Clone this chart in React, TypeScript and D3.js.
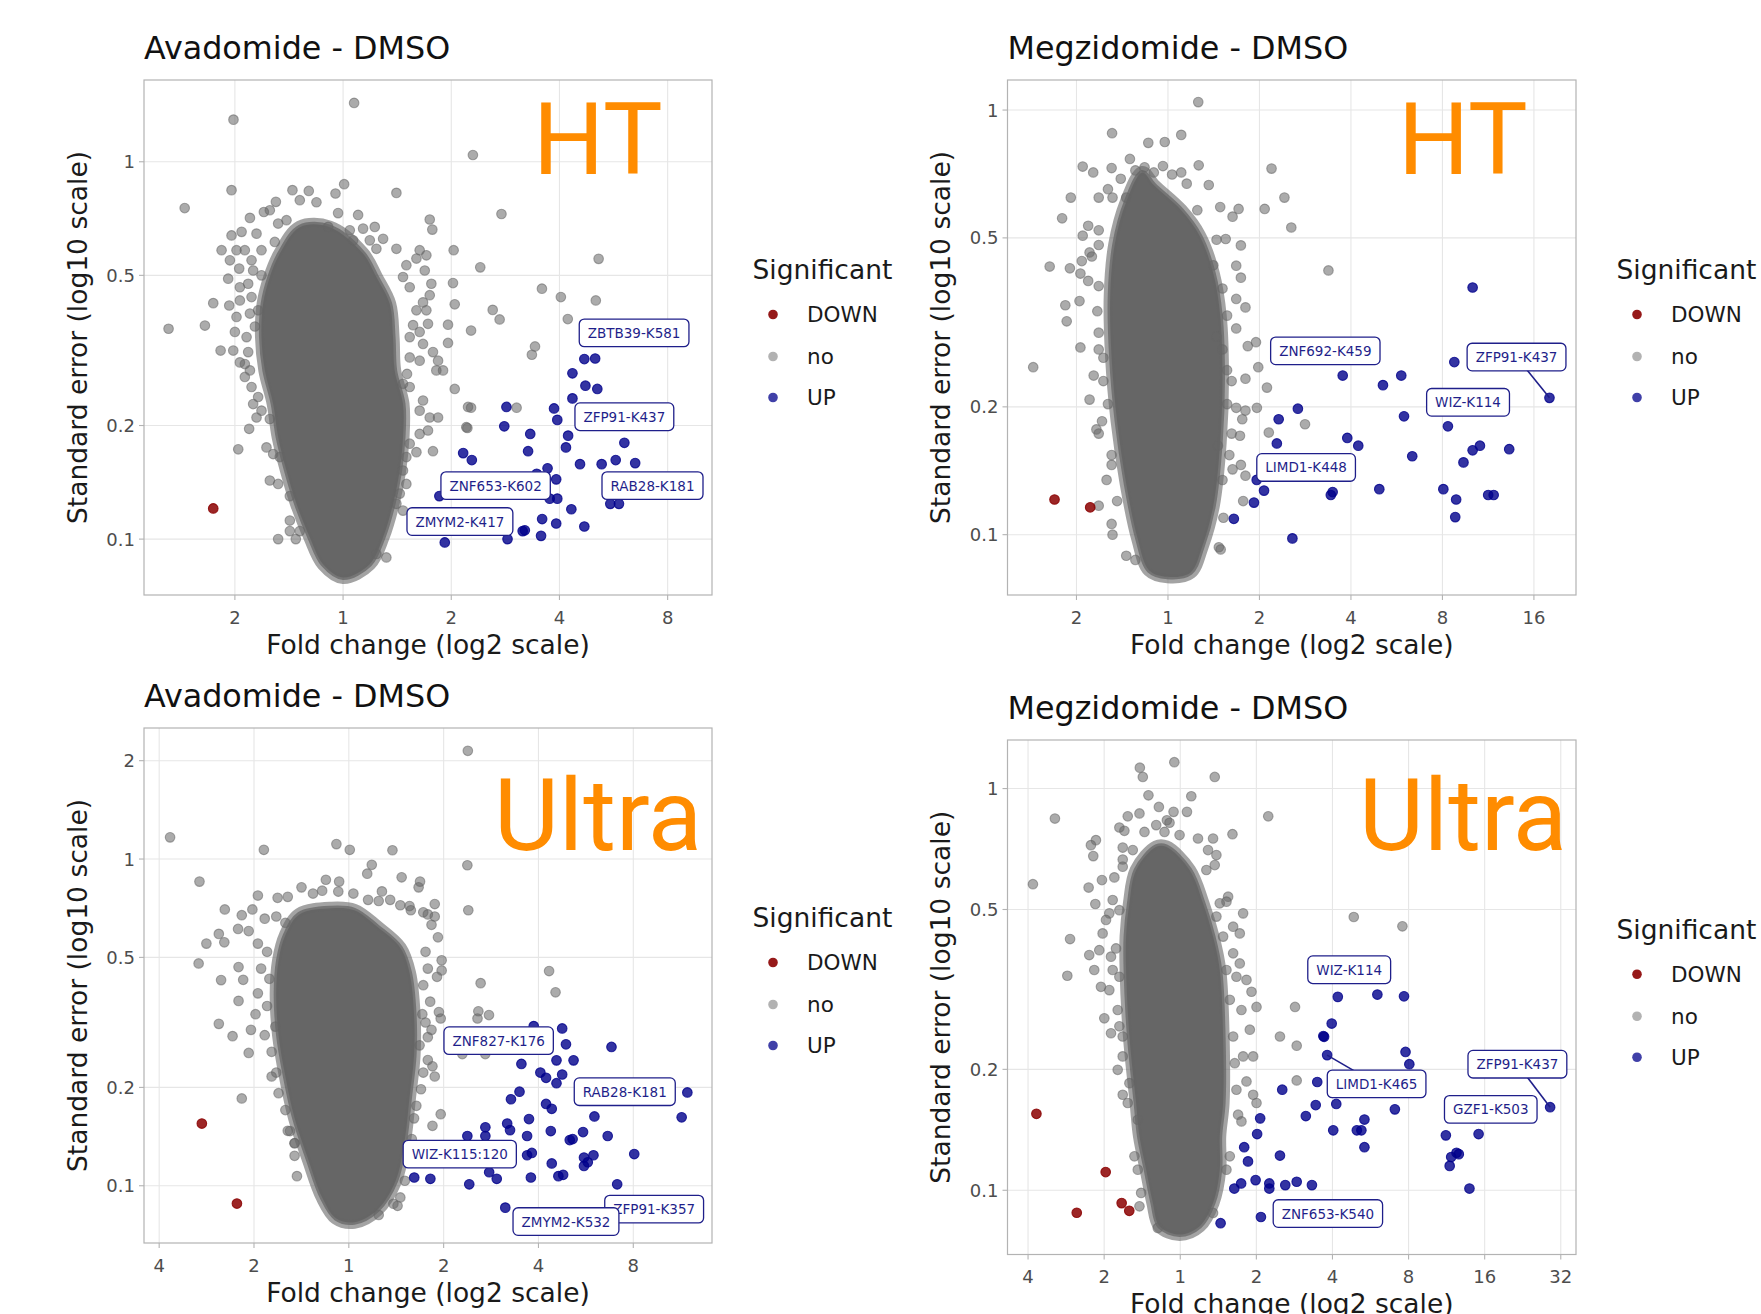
import React, { useEffect, useRef } from 'react';
import * as d3 from 'd3';

type P = [number, number];
type Lab = { text: string; x: number; y: number; lead?: P };

// ---------------- Panel 1: Avadomide - DMSO (HT) ----------------
const p1XTicks = [-1, 0, 1, 2, 3];
const p1XTickLabels = ['2', '1', '2', '4', '8'];
const p1YTicks = [0.1, 0.2, 0.5, 1];
const p1YTickLabels = ['0.1', '0.2', '0.5', '1'];
const p1Up: P[] = [
  [2.23, 0.300], [2.33, 0.301], [2.12, 0.275], [2.24, 0.255], [2.35, 0.250], [2.12, 0.236],
  [1.51, 0.224], [1.95, 0.222], [1.98, 0.207], [1.49, 0.199], [1.73, 0.190], [2.08, 0.188],
  [2.06, 0.175], [2.60, 0.180], [1.71, 0.171], [1.11, 0.169], [1.19, 0.162], [2.19, 0.158],
  [2.39, 0.158], [2.52, 0.162], [2.70, 0.159], [1.89, 0.154], [1.79, 0.149], [1.97, 0.144],
  [0.89, 0.130], [1.91, 0.128], [1.98, 0.128], [2.47, 0.124], [2.55, 0.124], [2.11, 0.120],
  [1.84, 0.113], [1.97, 0.110], [2.23, 0.108], [1.66, 0.105], [1.68, 0.1055], [1.52, 0.100],
  [1.83, 0.102], [0.94, 0.098],
];
const p1Down: P[] = [[-1.20, 0.1206]];
const p1Grey: P[] = [
  [0.102, 1.432], [-1.013, 1.293], [1.200, 1.042], [-1.464, 0.754], [1.464, 0.727], [2.362, 0.553],
  [1.268, 0.525], [1.838, 0.461], [2.013, 0.438], [2.336, 0.429], [1.383, 0.405], [1.447, 0.382],
  [2.077, 0.383], [1.183, 0.357], [1.774, 0.324], [1.745, 0.308], [1.183, 0.223], [1.604, 0.223],
  [-1.613, 0.361], [1.149, 0.197],
  [-1.031, 0.841], [-0.468, 0.841], [-0.317, 0.837], [0.010, 0.872], [-0.070, 0.824], [0.493, 0.827],
  [-0.621, 0.783], [-0.400, 0.791], [-0.246, 0.781], [-0.732, 0.736], [-0.677, 0.744], [-0.861, 0.710],
  [-0.523, 0.700], [-0.046, 0.731], [0.139, 0.723], [0.293, 0.672], [0.801, 0.703], [0.825, 0.661],
  [0.062, 0.658], [0.185, 0.665], [-0.138, 0.672], [-0.600, 0.686], [-0.800, 0.645], [-0.938, 0.652],
  [-1.031, 0.638], [-0.908, 0.583], [-1.123, 0.583], [-0.985, 0.583], [-0.754, 0.583], [-0.631, 0.613],
  [0.093, 0.619], [0.247, 0.619], [0.370, 0.625], [0.308, 0.588], [0.493, 0.588], [0.585, 0.532],
  [0.708, 0.583], [0.770, 0.565], [1.022, 0.583], [0.678, 0.554], [0.755, 0.515], [0.554, 0.495],
  [-1.046, 0.548], [-0.960, 0.521], [-0.846, 0.548], [-0.831, 0.515], [-1.062, 0.490], [-0.954, 0.465],
  [-0.877, 0.475], [-0.754, 0.500], [-1.200, 0.422], [-1.052, 0.416], [-0.954, 0.429], [-0.846, 0.438],
  [-1.277, 0.368], [-0.985, 0.388], [-0.861, 0.396], [-0.785, 0.404], [1.016, 0.477], [1.032, 0.419],
  [0.816, 0.475], [0.801, 0.443], [0.739, 0.424], [0.616, 0.465], [0.678, 0.404], [0.770, 0.404],
  [0.785, 0.372], [0.708, 0.354], [0.970, 0.370], [0.970, 0.331], [0.647, 0.369], [0.616, 0.343],
  [0.739, 0.329], [0.831, 0.313], [0.878, 0.297], [0.924, 0.280], [0.862, 0.280], [0.708, 0.297],
  [0.616, 0.303], [0.591, 0.274], [0.554, 0.258], [0.616, 0.253], [-1.132, 0.316], [-1.015, 0.316],
  [-0.877, 0.313], [-0.908, 0.291], [-0.861, 0.280], [-0.954, 0.294], [-1.000, 0.354], [-0.892, 0.343],
  [-0.815, 0.366], [-0.908, 0.269], [-0.846, 0.253], [-0.785, 0.238], [-0.831, 0.228], [-0.754, 0.219],
  [-0.677, 0.208], [-0.800, 0.210], [-0.868, 0.196], [-0.969, 0.173], [-0.708, 0.175], [-0.646, 0.168],
  [-0.585, 0.165], [-0.677, 0.143], [-0.600, 0.140], [-0.492, 0.130], [-0.600, 0.100], [-0.437, 0.100],
  [-0.492, 0.105], [-0.400, 0.105], [-0.492, 0.112], [0.739, 0.233], [0.708, 0.219], [0.801, 0.210],
  [0.878, 0.210], [0.708, 0.190], [0.785, 0.194], [0.616, 0.179], [0.831, 0.171], [0.678, 0.170],
  [0.585, 0.165], [0.554, 0.152], [0.585, 0.140], [0.524, 0.132], [0.493, 0.124], [0.554, 0.119],
  [0.400, 0.0894], [0.308, 0.0913], [1.032, 0.250], [1.155, 0.224], [1.139, 0.198],
];
const p1Core: P[] = [
  [-0.400, 0.671], [-0.123, 0.671], [0.185, 0.571], [0.308, 0.495], [0.431, 0.4205], [0.462, 0.343],
  [0.477, 0.2797], [0.554, 0.2282], [0.554, 0.1862], [0.523, 0.1518], [0.462, 0.1239], [0.369, 0.1010],
  [0.246, 0.0858], [0.000, 0.0791], [-0.185, 0.0858], [-0.307, 0.1010], [-0.430, 0.1239], [-0.523, 0.1518],
  [-0.600, 0.1862], [-0.646, 0.2282], [-0.723, 0.2797], [-0.754, 0.343], [-0.739, 0.4205], [-0.677, 0.495],
  [-0.585, 0.571],
];
const p1Labels: Lab[] = [
  { text: 'ZBTB39-K581', x: 2.69, y: 0.352 },
  { text: 'ZFP91-K437', x: 2.60, y: 0.211 },
  { text: 'RAB28-K181', x: 2.86, y: 0.1386 },
  { text: 'ZNF653-K602', x: 1.41, y: 0.1386 },
  { text: 'ZMYM2-K417', x: 1.08, y: 0.1113 },
];

// ---------------- Panel 2: Megzidomide - DMSO (HT) ----------------
const p2XTicks = [-1, 0, 1, 2, 3, 4];
const p2XTickLabels = ['2', '1', '2', '4', '8', '16'];
const p2YTicks = [0.1, 0.2, 0.5, 1];
const p2YTickLabels = ['0.1', '0.2', '0.5', '1'];
const p2Up: P[] = [
  [3.33, 0.382], [3.13, 0.255], [1.91, 0.237], [2.55, 0.237], [2.35, 0.225], [4.17, 0.210],
  [1.42, 0.198], [1.21, 0.187], [2.58, 0.190], [3.06, 0.180], [1.19, 0.164], [1.96, 0.169],
  [2.08, 0.162], [3.41, 0.162], [3.33, 0.158], [3.73, 0.159], [2.67, 0.153], [3.23, 0.148],
  [0.97, 0.1346], [1.05, 0.127], [1.80, 0.126], [1.78, 0.124], [2.31, 0.128], [3.01, 0.128],
  [3.50, 0.124], [3.56, 0.124], [0.94, 0.119], [3.15, 0.121], [3.14, 0.110], [0.72, 0.109],
  [1.36, 0.098],
];
const p2Down: P[] = [[-1.24, 0.121], [-0.85, 0.116]];
const p2Grey: P[] = [
  [0.331, 1.044], [-0.611, 0.882], [0.145, 0.874], [-0.215, 0.837], [-0.035, 0.841], [0.336, 0.741],
  [1.132, 0.728], [-0.932, 0.736], [-0.416, 0.767], [0.446, 0.666], [1.273, 0.622], [-1.062, 0.622],
  [1.057, 0.585], [0.772, 0.585], [1.348, 0.529], [-1.157, 0.556], [-1.293, 0.428], [-1.072, 0.424],
  [1.754, 0.419], [-1.122, 0.347], [-0.967, 0.355], [-1.107, 0.318], [-1.473, 0.248], [-0.957, 0.276],
  [-0.812, 0.237], [0.962, 0.284], [0.987, 0.248], [1.082, 0.222], [0.972, 0.199], [1.498, 0.182],
  [1.102, 0.174], [0.847, 0.196], [0.812, 0.187], [-0.782, 0.177], [-0.757, 0.173], [-0.671, 0.1346],
  [-0.616, 0.146], [-0.606, 0.100], [-0.616, 0.106], [0.556, 0.0934], [0.576, 0.0923], [0.797, 0.146],
  [0.706, 0.1425], [0.847, 0.1377], [0.822, 0.120], [0.606, 0.1096], [0.787, 0.171], [0.847, 0.233],
  [-0.857, 0.462], [-0.757, 0.385], [-0.857, 0.208], [-0.757, 0.117],
  [-0.817, 0.713], [-0.616, 0.730], [-0.516, 0.689], [-0.356, 0.721], [-0.256, 0.733], [-0.155, 0.713],
  [-0.055, 0.738], [0.045, 0.705], [0.145, 0.713], [0.205, 0.671], [-0.656, 0.651], [-0.757, 0.622],
  [-0.606, 0.622], [-0.456, 0.622], [0.321, 0.581], [0.571, 0.591], [0.706, 0.561], [0.531, 0.495],
  [0.631, 0.497], [0.797, 0.480], [-0.872, 0.534], [-0.757, 0.521], [-0.932, 0.506], [-0.757, 0.481],
  [-0.832, 0.452], [-0.942, 0.441], [-0.957, 0.412], [-0.872, 0.396], [0.496, 0.431], [0.746, 0.430],
  [0.797, 0.403], [0.596, 0.380], [0.746, 0.359], [0.646, 0.328], [0.746, 0.306], [0.847, 0.343],
  [-0.772, 0.336], [-0.757, 0.299], [-0.757, 0.273], [-0.706, 0.261], [0.531, 0.293], [0.596, 0.273],
  [0.646, 0.244], [0.696, 0.230], [0.872, 0.278], [-0.706, 0.230], [-0.656, 0.203], [-0.721, 0.185],
  [-0.616, 0.154], [0.646, 0.203], [0.746, 0.199], [0.696, 0.173], [0.546, 0.162], [0.671, 0.154],
  [0.596, 0.1345], [-0.556, 0.120], [-0.456, 0.0892], [-0.356, 0.0872],
];
const p2Core: P[] = [
  [-0.281, 0.713], [-0.155, 0.666], [0.145, 0.581], [0.346, 0.506], [0.496, 0.412], [0.571, 0.328],
  [0.596, 0.233], [0.571, 0.165], [0.496, 0.117], [0.371, 0.0933], [0.245, 0.0814], [-0.005, 0.0796],
  [-0.205, 0.0824], [-0.331, 0.0978], [-0.456, 0.1316], [-0.556, 0.185], [-0.616, 0.261], [-0.631, 0.367],
  [-0.581, 0.484], [-0.456, 0.608],
];
const p2Labels: Lab[] = [
  { text: 'ZNF692-K459', x: 1.72, y: 0.271 },
  { text: 'ZFP91-K437', x: 3.81, y: 0.262, lead: [4.17, 0.210] },
  { text: 'WIZ-K114', x: 3.28, y: 0.205 },
  { text: 'LIMD1-K448', x: 1.51, y: 0.144 },
];

// ---------------- Panel 3: Avadomide - DMSO (Ultra) ----------------
const p3XTicks = [-2, -1, 0, 1, 2, 3];
const p3XTickLabels = ['4', '2', '1', '2', '4', '8'];
const p3YTicks = [0.1, 0.2, 0.5, 1, 2];
const p3YTickLabels = ['0.1', '0.2', '0.5', '1', '2'];
const p3Up: P[] = [
  [1.95, 0.308], [2.25, 0.303], [2.29, 0.271], [2.77, 0.266], [1.82, 0.236], [2.19, 0.242],
  [2.37, 0.242], [2.02, 0.222], [2.08, 0.214], [2.25, 0.219], [2.19, 0.206], [1.80, 0.194],
  [1.71, 0.184], [3.57, 0.193], [2.08, 0.178], [2.14, 0.172], [2.59, 0.163], [3.51, 0.162],
  [1.67, 0.155], [1.90, 0.160], [1.44, 0.151], [1.70, 0.148], [1.25, 0.142], [1.44, 0.142],
  [1.88, 0.142], [2.13, 0.147], [2.47, 0.146], [2.73, 0.142], [2.33, 0.138], [2.36, 0.139],
  [1.88, 0.124], [1.93, 0.126], [2.48, 0.122], [2.58, 0.124], [3.01, 0.125], [2.48, 0.115],
  [2.52, 0.118], [2.14, 0.117], [1.48, 0.110], [1.56, 0.105], [2.21, 0.107], [2.26, 0.108],
  [1.92, 0.106], [0.69, 0.106], [0.86, 0.105], [1.27, 0.101], [2.83, 0.101], [1.65, 0.0857],
];
const p3Down: P[] = [[-1.55, 0.155], [-1.18, 0.0882]];
const p3Grey: P[] = [
  [1.255, 2.144], [-1.885, 1.165], [-0.896, 1.067], [-0.131, 1.111], [0.010, 1.067], [0.460, 1.064],
  [1.250, 0.957], [0.242, 0.960], [0.194, 0.902], [-1.575, 0.853], [-0.242, 0.864], [-0.102, 0.853],
  [0.557, 0.879], [0.751, 0.853], [0.736, 0.819], [1.260, 0.697], [-1.308, 0.701], [-1.129, 0.673],
  [-1.502, 0.551], [-1.371, 0.590], [-1.313, 0.556], [-1.168, 0.611], [-1.056, 0.602], [-1.584, 0.479],
  [-1.347, 0.426], [-1.163, 0.467], [-1.114, 0.427], [2.112, 0.454], [2.180, 0.391], [1.390, 0.417],
  [0.979, 0.490], [0.979, 0.456], [1.366, 0.342], [1.478, 0.333], [1.357, 0.325], [0.950, 0.340],
  [0.969, 0.325], [-1.371, 0.313], [-1.226, 0.287], [-1.056, 0.255], [-1.032, 0.300], [-1.163, 0.368],
  [1.197, 0.253], [1.439, 0.253], [-1.129, 0.185], [0.969, 0.1656], [0.882, 0.1526], [0.514, 0.0868],
  [0.315, 0.0814], [0.882, 0.232], [0.906, 0.216], [0.872, 0.300], [0.833, 0.285], [-0.814, 0.216],
  [-0.572, 0.135], [-0.620, 0.147], [-0.547, 0.107], [0.349, 0.796], [0.640, 0.718], [0.833, 0.677],
  [0.906, 0.728],
  [-0.959, 0.773], [-0.751, 0.761], [-0.644, 0.766], [-0.499, 0.819], [-0.378, 0.784], [-0.281, 0.800],
  [-0.111, 0.795], [0.048, 0.784], [0.203, 0.750], [0.315, 0.744], [0.436, 0.750], [0.543, 0.722],
  [0.654, 0.697], [0.785, 0.687], [0.906, 0.667], [0.940, 0.576], [0.872, 0.629], [-1.017, 0.701],
  [-0.887, 0.657], [-0.765, 0.667], [-0.669, 0.638], [-0.959, 0.551], [-0.862, 0.520], [-0.925, 0.462],
  [-0.838, 0.430], [-0.959, 0.388], [-0.862, 0.355], [-0.984, 0.335], [-0.887, 0.289], [-0.775, 0.307],
  [-0.814, 0.257], [-0.765, 0.222], [-0.741, 0.192], [-0.669, 0.1705], [-0.644, 0.1473], [-0.572, 0.1349],
  [-0.572, 0.1235], [0.809, 0.520], [0.833, 0.462], [0.930, 0.436], [0.785, 0.411], [0.858, 0.366],
  [0.775, 0.335], [0.809, 0.316], [0.746, 0.269], [0.833, 0.2425], [0.785, 0.222], [0.761, 0.1974],
  [0.712, 0.1757], [0.688, 0.1608], [0.664, 0.139], [0.640, 0.120], [0.591, 0.1036], [0.543, 0.0921],
  [0.470, 0.0881],
];
const p3Core: P[] = [
  [-0.523, 0.677], [-0.184, 0.707], [0.058, 0.697], [0.300, 0.620], [0.543, 0.535], [0.640, 0.449],
  [0.688, 0.335], [0.688, 0.250], [0.640, 0.186], [0.591, 0.139], [0.494, 0.1035], [0.300, 0.0843],
  [0.058, 0.0773], [-0.136, 0.0796], [-0.281, 0.0921], [-0.426, 0.120], [-0.572, 0.161], [-0.669, 0.216],
  [-0.741, 0.289], [-0.766, 0.388], [-0.741, 0.490], [-0.669, 0.585],
];
const p3Labels: Lab[] = [
  { text: 'ZNF827-K176', x: 1.58, y: 0.278 },
  { text: 'RAB28-K181', x: 2.91, y: 0.194 },
  { text: 'WIZ-K115:120', x: 1.17, y: 0.125 },
  { text: 'ZFP91-K357', x: 3.22, y: 0.0848 },
  { text: 'ZMYM2-K532', x: 2.29, y: 0.0777 },
];

// ---------------- Panel 4: Megzidomide - DMSO (Ultra) ----------------
const p4XTicks = [-2, -1, 0, 1, 2, 3, 4, 5];
const p4XTickLabels = ['4', '2', '1', '2', '4', '8', '16', '32'];
const p4YTicks = [0.1, 0.2, 0.5, 1];
const p4YTickLabels = ['0.1', '0.2', '0.5', '1'];
const p4Up: P[] = [
  [2.07, 0.303], [2.59, 0.307], [2.94, 0.304], [1.99, 0.260], [1.88, 0.242], [1.89, 0.241],
  [1.93, 0.217], [2.96, 0.221], [3.01, 0.206], [1.34, 0.178], [1.80, 0.186], [1.78, 0.163],
  [2.05, 0.164], [1.65, 0.153], [2.82, 0.159], [4.86, 0.161], [1.05, 0.151], [2.42, 0.150],
  [1.01, 0.138], [2.01, 0.141], [2.32, 0.141], [2.38, 0.141], [3.49, 0.137], [3.92, 0.138],
  [0.84, 0.128], [2.42, 0.128], [0.89, 0.118], [1.31, 0.122], [3.63, 0.124], [3.66, 0.123],
  [3.56, 0.121], [3.54, 0.115], [0.71, 0.101], [0.80, 0.104], [0.99, 0.106], [1.17, 0.104],
  [1.17, 0.101], [1.38, 0.103], [1.53, 0.105], [1.73, 0.103], [3.80, 0.101], [1.06, 0.0858],
  [0.53, 0.0828],
];
const p4Down: P[] = [[-1.89, 0.155], [-0.98, 0.111], [-1.36, 0.0879], [-0.77, 0.0929], [-0.67, 0.0889]];
const p4Grey: P[] = [
  [-0.078, 1.163], [-0.531, 1.127], [-1.647, 0.842], [-1.936, 0.578], [2.280, 0.479], [2.919, 0.454],
  [-1.448, 0.422], [-1.484, 0.342],
  [-0.492, 1.069], [0.453, 1.069], [-0.418, 0.962], [0.145, 0.957], [-0.281, 0.900], [-0.536, 0.867],
  [-0.690, 0.853], [-0.088, 0.875], [0.088, 0.875], [1.156, 0.853], [-0.176, 0.834], [-0.141, 0.822],
  [-0.800, 0.800], [-0.734, 0.785], [-0.316, 0.811], [-0.470, 0.780], [-0.207, 0.780], [-0.009, 0.766],
  [0.233, 0.751], [0.431, 0.751], [0.686, 0.770], [-1.108, 0.744], [-1.174, 0.723], [-1.143, 0.679],
  [-0.756, 0.713], [-0.624, 0.703], [0.365, 0.703], [0.475, 0.683], [0.453, 0.645], [0.343, 0.627],
  [-1.204, 0.567], [-1.029, 0.592], [-0.866, 0.601], [-0.756, 0.639], [-0.756, 0.666], [-1.116, 0.516],
  [-0.888, 0.528], [-0.932, 0.489], [-0.800, 0.498], [-0.976, 0.471], [0.629, 0.538], [0.607, 0.523],
  [0.519, 0.518], [0.826, 0.489], [0.475, 0.480], [0.695, 0.453], [0.782, 0.436], [0.563, 0.428],
  [-1.020, 0.436], [-1.064, 0.396], [-1.196, 0.385], [-1.130, 0.3535], [-0.844, 0.400], [-0.910, 0.3816],
  [-0.888, 0.3535], [-0.800, 0.340], [-1.042, 0.321], [-0.932, 0.315], [0.695, 0.389], [0.782, 0.367],
  [0.738, 0.340], [0.870, 0.334], [0.607, 0.3535], [0.936, 0.312], [0.651, 0.298], [0.804, 0.281],
  [1.002, 0.286], [1.508, 0.286], [-0.998, 0.268], [-0.822, 0.281], [-0.800, 0.256], [-0.910, 0.246],
  [-0.756, 0.2414], [0.695, 0.2414], [0.914, 0.251], [1.310, 0.2414], [1.530, 0.229], [-0.756, 0.2154],
  [-0.822, 0.1995], [-0.668, 0.1848], [-0.756, 0.1729], [-0.690, 0.1649], [0.826, 0.2154], [0.958, 0.2154],
  [0.716, 0.2072], [0.870, 0.1866], [0.738, 0.1779], [0.958, 0.1729], [1.002, 0.1649], [1.530, 0.1877],
  [0.760, 0.1542], [0.804, 0.1484], [-0.558, 0.1498], [-0.602, 0.1215], [-0.558, 0.1125], [-0.514, 0.0985],
  [-0.536, 0.0912], [0.607, 0.1125], [0.651, 0.1215], [0.431, 0.0878], [-0.295, 0.0806],
];
const p4Core: P[] = [
  [-0.316, 0.716], [-0.185, 0.716], [0.123, 0.627], [0.299, 0.518], [0.431, 0.428], [0.519, 0.3535],
  [0.563, 0.2414], [0.563, 0.1649], [0.519, 0.1362], [0.519, 0.1125], [0.431, 0.0930], [0.255, 0.0814],
  [-0.009, 0.0776], [-0.273, 0.0814], [-0.360, 0.0930], [-0.448, 0.1125], [-0.536, 0.1362], [-0.580, 0.1649],
  [-0.668, 0.2414], [-0.712, 0.3535], [-0.712, 0.428], [-0.668, 0.518], [-0.580, 0.627],
];
const p4Labels: Lab[] = [
  { text: 'WIZ-K114', x: 2.22, y: 0.354 },
  { text: 'LIMD1-K465', x: 2.58, y: 0.184, lead: [1.93, 0.217] },
  { text: 'ZFP91-K437', x: 4.43, y: 0.206, lead: [4.86, 0.161] },
  { text: 'GZF1-K503', x: 4.08, y: 0.159 },
  { text: 'ZNF653-K540', x: 1.94, y: 0.0875 },
];

const legendKeys = ['DOWN', 'no', 'UP'];

// ---------------- layout (positions / styles) ----------------
const panels = [
  {
    title: 'Avadomide - DMSO', tag: 'HT', box: [144, 80, 712, 595], xDomain: [-1.84, 3.41], yDomain: [0.0711, 1.647],
    xTicks: p1XTicks, xTickLabels: p1XTickLabels, yTicks: p1YTicks, yTickLabels: p1YTickLabels,
    up: p1Up, down: p1Down, grey: p1Grey, core: p1Core, labels: p1Labels, tagDx: 389, tagDy: 94,
  },
  {
    title: 'Megzidomide - DMSO', tag: 'HT', box: [1007.5, 80, 1576, 595], xDomain: [-1.754, 4.46], yDomain: [0.0721, 1.177],
    xTicks: p2XTicks, xTickLabels: p2XTickLabels, yTicks: p2YTicks, yTickLabels: p2YTickLabels,
    up: p2Up, down: p2Down, grey: p2Grey, core: p2Core, labels: p2Labels, tagDx: 390.5, tagDy: 94,
  },
  {
    title: 'Avadomide - DMSO', tag: 'Ultra', box: [144, 728, 712, 1243], xDomain: [-2.16, 3.83], yDomain: [0.0668, 2.518],
    xTicks: p3XTicks, xTickLabels: p3XTickLabels, yTicks: p3YTicks, yTickLabels: p3YTickLabels,
    up: p3Up, down: p3Down, grey: p3Grey, core: p3Core, labels: p3Labels, tagDx: 350, tagDy: 122,
  },
  {
    title: 'Megzidomide - DMSO', tag: 'Ultra', box: [1007.5, 740, 1576, 1254.5], xDomain: [-2.27, 5.2], yDomain: [0.0692, 1.321],
    xTicks: p4XTicks, xTickLabels: p4XTickLabels, yTicks: p4YTicks, yTickLabels: p4YTickLabels,
    up: p4Up, down: p4Down, grey: p4Grey, core: p4Core, labels: p4Labels, tagDx: 351.5, tagDy: 110,
  },
];

const FONT = "'DejaVu Sans', Verdana, sans-serif";
const GREY = '#666666';
const BLUE = '#00008b';
const RED = '#8b0000';
const LABEL_COL = '#1f1f8a';

export default function App() {
  const ref = useRef<SVGSVGElement | null>(null);

  useEffect(() => {
    const svg = d3.select(ref.current);
    svg.selectAll('*').remove();
    svg.append('rect').attr('width', 1761).attr('height', 1314).attr('fill', '#ffffff');

    panels.forEach((p, i) => {
      const [x0, y0, x1, y1] = p.box;
      const xs = d3.scaleLinear().domain(p.xDomain).range([x0, x1]);
      const ys = d3.scaleLog().domain(p.yDomain).range([y1, y0]);
      const g = svg.append('g');

      g.append('clipPath').attr('id', `clip${i}`).append('rect')
        .attr('x', x0).attr('y', y0).attr('width', x1 - x0).attr('height', y1 - y0);

      // grid
      const grid = g.append('g').attr('stroke', '#e6e6e6').attr('stroke-width', 1.1);
      p.xTicks.forEach((t) => grid.append('line').attr('x1', xs(t)).attr('x2', xs(t)).attr('y1', y0).attr('y2', y1));
      p.yTicks.forEach((t) => grid.append('line').attr('y1', ys(t)).attr('y2', ys(t)).attr('x1', x0).attr('x2', x1));

      const plot = g.append('g').attr('clip-path', `url(#clip${i})`);
      const line = d3.line<P>().x((d) => xs(d[0])).y((d) => ys(d[1])).curve(d3.curveCatmullRomClosed.alpha(0.5));

      // dense core of overlapping points, with a semi-dense rim
      plot.append('path').attr('d', line(p.core) as string).attr('fill', 'none')
        .attr('stroke', GREY).attr('stroke-width', 13).attr('stroke-opacity', 0.6).attr('stroke-linejoin', 'round');
      plot.append('path').attr('d', line(p.core) as string).attr('fill', GREY)
        .attr('stroke', GREY).attr('stroke-width', 5).attr('stroke-opacity', 0.75);

      const dot = (data: P[], col: string, a: number) => {
        plot.append('g').selectAll('circle').data(data).join('circle')
          .attr('cx', (d) => xs(d[0])).attr('cy', (d) => ys(d[1])).attr('r', 4.8)
          .attr('fill', col).attr('fill-opacity', a)
          .attr('stroke', col).attr('stroke-opacity', a).attr('stroke-width', 1.1);
      };
      dot(p.grey, GREY, 0.55);
      dot(p.down, RED, 0.85);
      dot(p.up, BLUE, 0.8);

      // labels
      const lg = plot.append('g');
      p.labels.forEach((l) => {
        const cx = xs(l.x);
        const cy = ys(l.y);
        if (l.lead) {
          lg.append('line').attr('x1', cx).attr('y1', cy).attr('x2', xs(l.lead[0])).attr('y2', ys(l.lead[1]))
            .attr('stroke', LABEL_COL).attr('stroke-width', 1.6);
        }
        const gg = lg.append('g').attr('transform', `translate(${cx},${cy})`);
        const rect = gg.append('rect');
        const txt = gg.append('text').text(l.text).attr('text-anchor', 'middle').attr('dominant-baseline', 'central')
          .attr('font-family', FONT).attr('font-size', 13.5).attr('fill', LABEL_COL);
        const w = (txt.node() as SVGTextElement).getComputedTextLength();
        rect.attr('x', -w / 2 - 8.5).attr('y', -13.8).attr('width', w + 17).attr('height', 27.6)
          .attr('rx', 5).attr('fill', '#ffffff').attr('stroke', LABEL_COL).attr('stroke-width', 1.3);
      });

      // border
      g.append('rect').attr('x', x0).attr('y', y0).attr('width', x1 - x0).attr('height', y1 - y0)
        .attr('fill', 'none').attr('stroke', '#b3b3b3').attr('stroke-width', 1.2);

      // ticks
      const ax = g.append('g').attr('font-family', FONT).attr('font-size', 18).attr('fill', '#4d4d4d');
      p.xTicks.forEach((t, k) => {
        ax.append('line').attr('x1', xs(t)).attr('x2', xs(t)).attr('y1', y1).attr('y2', y1 + 5).attr('stroke', '#b3b3b3').attr('stroke-width', 1.1);
        ax.append('text').attr('x', xs(t)).attr('y', y1 + 22).attr('text-anchor', 'middle').attr('dominant-baseline', 'central').text(p.xTickLabels[k]);
      });
      p.yTicks.forEach((t, k) => {
        ax.append('line').attr('x1', x0 - 5).attr('x2', x0).attr('y1', ys(t)).attr('y2', ys(t)).attr('stroke', '#b3b3b3').attr('stroke-width', 1.1);
        ax.append('text').attr('x', x0 - 9).attr('y', ys(t)).attr('text-anchor', 'end').attr('dominant-baseline', 'central').text(p.yTickLabels[k]);
      });

      // axis titles
      g.append('text').attr('x', (x0 + x1) / 2).attr('y', y1 + 49).attr('text-anchor', 'middle').attr('dominant-baseline', 'central')
        .attr('font-family', FONT).attr('font-size', 26.5).attr('fill', '#1a1a1a').text('Fold change (log2 scale)');
      g.append('text').attr('transform', `translate(${x0 - 67},${(y0 + y1) / 2}) rotate(-90)`).attr('text-anchor', 'middle')
        .attr('dominant-baseline', 'central').attr('font-family', FONT).attr('font-size', 26.5).attr('fill', '#1a1a1a')
        .text('Standard error (log10 scale)');

      // title
      g.append('text').attr('x', x0).attr('y', y0 - 21).attr('font-family', FONT).attr('font-size', 31.8).attr('fill', '#111')
        .text(p.title);

      // tag
      g.append('text').attr('x', x0 + p.tagDx).attr('y', y0 + p.tagDy).attr('font-family', "Roboto, 'Noto Sans', sans-serif")
        .attr('font-size', 100).attr('fill', '#ff8c00').text(p.tag);

      // legend
      const cy = (y0 + y1) / 2;
      const leg = g.append('g').attr('font-family', FONT);
      leg.append('text').attr('x', x1 + 40.5).attr('y', cy - 68).attr('dominant-baseline', 'central').attr('font-size', 26.5)
        .attr('fill', '#1a1a1a').text('Significant');
      const keyCols = [RED, GREY, BLUE];
      const keyAlpha = [0.9, 0.5, 0.75];
      const keyY = [cy - 23, cy + 19, cy + 60];
      legendKeys.forEach((k, j) => {
        leg.append('circle').attr('cx', x1 + 61).attr('cy', keyY[j]).attr('r', 4.8).attr('fill', keyCols[j])
          .attr('fill-opacity', keyAlpha[j]);
        leg.append('text').attr('x', x1 + 95).attr('y', keyY[j]).attr('dominant-baseline', 'central').attr('font-size', 21.5)
          .attr('fill', '#1a1a1a').text(k);
      });
    });
  }, []);

  return (
    <svg ref={ref} width={1761} height={1314} style={{ position: 'absolute', left: 0, top: 0, display: 'block' }} />
  );
}
